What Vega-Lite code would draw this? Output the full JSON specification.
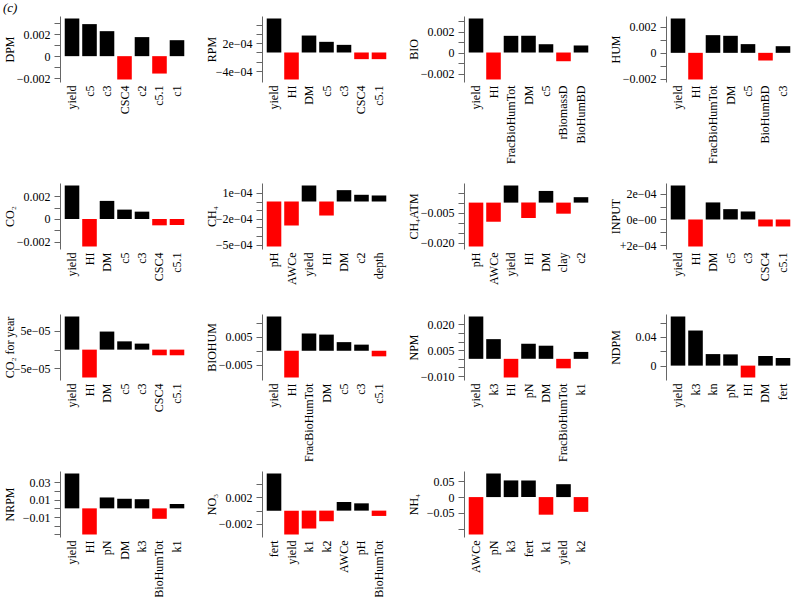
{
  "$schema": "https://vega.github.io/schema/vega-lite/v6.json",
  "background": "white",
  "padding": {"left": 3, "top": 2, "right": 2, "bottom": 2},
  "title": {"text": "(c)", "anchor": "start", "font": "Liberation Serif", "fontStyle": "italic", "fontSize": 13, "fontWeight": "normal", "offset": 0, "color": "black"},
  "config": {
    "font": "Liberation Serif",
    "view": {"stroke": null},
    "axis": {"labelFont": "Liberation Serif", "titleFont": "Liberation Serif", "labelFontSize": 12, "titleFontSize": 12, "labelColor": "black", "titleColor": "black", "titleFontWeight": "normal", "grid": false, "labelOverlap": false},
    "axisY": {"domainColor": "#666666", "tickColor": "#666666", "tickSize": 6, "labelPadding": 4, "minExtent": 41, "maxExtent": 41, "titlePadding": 3},
    "axisX": {"domain": false, "ticks": false, "tickSize": 0, "labelAngle": -90, "labelPadding": 3}
  },
  "data": {"values": [
    {"panel": "DPM", "var": "yield", "value": 0.00342},
    {"panel": "DPM", "var": "c5", "value": 0.00291},
    {"panel": "DPM", "var": "c3", "value": 0.00227},
    {"panel": "DPM", "var": "CSC4", "value": -0.00212},
    {"panel": "DPM", "var": "c2", "value": 0.00173},
    {"panel": "DPM", "var": "c5.1", "value": -0.00158},
    {"panel": "DPM", "var": "c1", "value": 0.00145},
    {"panel": "RPM", "var": "yield", "value": 0.00073},
    {"panel": "RPM", "var": "HI", "value": -0.00058},
    {"panel": "RPM", "var": "DM", "value": 0.000364},
    {"panel": "RPM", "var": "c5", "value": 0.000229},
    {"panel": "RPM", "var": "c3", "value": 0.000164},
    {"panel": "RPM", "var": "CSC4", "value": -0.000143},
    {"panel": "RPM", "var": "c5.1", "value": -0.000143},
    {"panel": "BIO", "var": "yield", "value": 0.00324},
    {"panel": "BIO", "var": "HI", "value": -0.00257},
    {"panel": "BIO", "var": "FracBioHumTot", "value": 0.00159},
    {"panel": "BIO", "var": "DM", "value": 0.00159},
    {"panel": "BIO", "var": "c5", "value": 0.00079},
    {"panel": "BIO", "var": "rBiomassD", "value": -0.00083},
    {"panel": "BIO", "var": "BioHumBD", "value": 0.00067},
    {"panel": "HUM", "var": "yield", "value": 0.00264},
    {"panel": "HUM", "var": "HI", "value": -0.00205},
    {"panel": "HUM", "var": "FracBioHumTot", "value": 0.00136},
    {"panel": "HUM", "var": "DM", "value": 0.00131},
    {"panel": "HUM", "var": "c5", "value": 0.00067},
    {"panel": "HUM", "var": "BioHumBD", "value": -0.00059},
    {"panel": "HUM", "var": "c3", "value": 0.00051},
    {"panel": "CO2", "var": "yield", "value": 0.00296},
    {"panel": "CO2", "var": "HI", "value": -0.00243},
    {"panel": "CO2", "var": "DM", "value": 0.0016},
    {"panel": "CO2", "var": "c5", "value": 0.00083},
    {"panel": "CO2", "var": "c3", "value": 0.00065},
    {"panel": "CO2", "var": "CSC4", "value": -0.00056},
    {"panel": "CO2", "var": "c5.1", "value": -0.00053},
    {"panel": "CH4", "var": "pH", "value": -0.000523},
    {"panel": "CH4", "var": "AWCe", "value": -0.000279},
    {"panel": "CH4", "var": "yield", "value": 0.000186},
    {"panel": "CH4", "var": "HI", "value": -0.000163},
    {"panel": "CH4", "var": "DM", "value": 0.000132},
    {"panel": "CH4", "var": "c2", "value": 0.000078},
    {"panel": "CH4", "var": "depth", "value": 0.00007},
    {"panel": "CH4ATM", "var": "pH", "value": -0.0218},
    {"panel": "CH4ATM", "var": "AWCe", "value": -0.0095},
    {"panel": "CH4ATM", "var": "yield", "value": 0.0085},
    {"panel": "CH4ATM", "var": "HI", "value": -0.0077},
    {"panel": "CH4ATM", "var": "DM", "value": 0.0058},
    {"panel": "CH4ATM", "var": "clay", "value": -0.0055},
    {"panel": "CH4ATM", "var": "c2", "value": 0.0027},
    {"panel": "INPUT", "var": "yield", "value": 0.000263},
    {"panel": "INPUT", "var": "HI", "value": -0.000209},
    {"panel": "INPUT", "var": "DM", "value": 0.000132},
    {"panel": "INPUT", "var": "c5", "value": 0.00008},
    {"panel": "INPUT", "var": "c3", "value": 0.000062},
    {"panel": "INPUT", "var": "CSC4", "value": -0.000054},
    {"panel": "INPUT", "var": "c5.1", "value": -0.000054},
    {"panel": "CO2year", "var": "yield", "value": 0.000088},
    {"panel": "CO2year", "var": "HI", "value": -0.000074},
    {"panel": "CO2year", "var": "DM", "value": 0.000048},
    {"panel": "CO2year", "var": "c5", "value": 0.000022},
    {"panel": "CO2year", "var": "c3", "value": 0.000016},
    {"panel": "CO2year", "var": "CSC4", "value": -0.000015},
    {"panel": "CO2year", "var": "c5.1", "value": -0.000015},
    {"panel": "BIOHUM", "var": "yield", "value": 0.0123},
    {"panel": "BIOHUM", "var": "HI", "value": -0.0096},
    {"panel": "BIOHUM", "var": "FracBioHumTot", "value": 0.0062},
    {"panel": "BIOHUM", "var": "DM", "value": 0.0058},
    {"panel": "BIOHUM", "var": "c5", "value": 0.0031},
    {"panel": "BIOHUM", "var": "c3", "value": 0.0022},
    {"panel": "BIOHUM", "var": "c5.1", "value": -0.002},
    {"panel": "NPM", "var": "yield", "value": 0.0245},
    {"panel": "NPM", "var": "k3", "value": 0.0114},
    {"panel": "NPM", "var": "HI", "value": -0.0108},
    {"panel": "NPM", "var": "pN", "value": 0.0088},
    {"panel": "NPM", "var": "DM", "value": 0.0076},
    {"panel": "NPM", "var": "FracBioHumTot", "value": -0.0055},
    {"panel": "NPM", "var": "k1", "value": 0.004},
    {"panel": "NDPM", "var": "yield", "value": 0.0686},
    {"panel": "NDPM", "var": "k3", "value": 0.049},
    {"panel": "NDPM", "var": "kn", "value": 0.0161},
    {"panel": "NDPM", "var": "pN", "value": 0.0157},
    {"panel": "NDPM", "var": "HI", "value": -0.0166},
    {"panel": "NDPM", "var": "DM", "value": 0.0134},
    {"panel": "NDPM", "var": "fert", "value": 0.0106},
    {"panel": "NRPM", "var": "yield", "value": 0.04},
    {"panel": "NRPM", "var": "HI", "value": -0.03},
    {"panel": "NRPM", "var": "pN", "value": 0.0125},
    {"panel": "NRPM", "var": "DM", "value": 0.011},
    {"panel": "NRPM", "var": "k3", "value": 0.0105},
    {"panel": "NRPM", "var": "BioHumTot", "value": -0.012},
    {"panel": "NRPM", "var": "k1", "value": 0.005},
    {"panel": "NO3", "var": "fert", "value": 0.0056},
    {"panel": "NO3", "var": "yield", "value": -0.0036},
    {"panel": "NO3", "var": "k1", "value": -0.0027},
    {"panel": "NO3", "var": "k2", "value": -0.0016},
    {"panel": "NO3", "var": "AWCe", "value": 0.0013},
    {"panel": "NO3", "var": "pH", "value": 0.0011},
    {"panel": "NO3", "var": "BioHumTot", "value": -0.0008},
    {"panel": "NH4", "var": "AWCe", "value": -0.119},
    {"panel": "NH4", "var": "pN", "value": 0.075},
    {"panel": "NH4", "var": "k3", "value": 0.053},
    {"panel": "NH4", "var": "fert", "value": 0.053},
    {"panel": "NH4", "var": "k1", "value": -0.056},
    {"panel": "NH4", "var": "yield", "value": 0.041},
    {"panel": "NH4", "var": "k2", "value": -0.047}
  ]},
  "spacing": 29,
  "vconcat": [
    {
      "columns": 4,
      "spacing": {"row": 19, "column": 16},
      "align": {"row": "each", "column": "all"},
      "bounds": "full",
      "concat": [
        {"width": 129, "height": 66, "transform": [{"filter": "datum.panel == 'DPM'"}], "mark": "bar",
         "encoding": {
           "x": {"field": "var", "type": "nominal", "sort": null, "scale": {"paddingInner": 0.1667, "paddingOuter": 0.27}, "axis": {"title": null}},
           "y": {"field": "value", "type": "quantitative", "scale": {"nice": false, "padding": 2.5}, "axis": {"title": "DPM", "values": [0.003, 0.002, 0.001, 0, -0.001, -0.002], "labelExpr": "datum.value == 0.002 ? '0.002' : datum.value == 0 ? '0' : datum.value == -0.002 ? '−0.002' : ''"}},
           "color": {"condition": {"test": "datum.value < 0", "value": "#ff0000"}, "value": "#000000"}}},
        {"width": 129, "height": 66, "transform": [{"filter": "datum.panel == 'RPM'"}], "mark": "bar",
         "encoding": {
           "x": {"field": "var", "type": "nominal", "sort": null, "scale": {"paddingInner": 0.1667, "paddingOuter": 0.27}, "axis": {"title": null}},
           "y": {"field": "value", "type": "quantitative", "scale": {"nice": false, "padding": 2.5}, "axis": {"title": "RPM", "values": [0.0006, 0.0004, 0.0002, 0, -0.0002, -0.0004], "labelExpr": "datum.value == 0.0002 ? '2e−04' : datum.value == -0.0004 ? '−4e−04' : ''"}},
           "color": {"condition": {"test": "datum.value < 0", "value": "#ff0000"}, "value": "#000000"}}},
        {"width": 129, "height": 66, "transform": [{"filter": "datum.panel == 'BIO'"}], "mark": "bar",
         "encoding": {
           "x": {"field": "var", "type": "nominal", "sort": null, "scale": {"paddingInner": 0.1667, "paddingOuter": 0.27}, "axis": {"title": null}},
           "y": {"field": "value", "type": "quantitative", "scale": {"nice": false, "padding": 2.5}, "axis": {"title": "BIO", "values": [0.003, 0.002, 0.001, 0, -0.001, -0.002], "labelExpr": "datum.value == 0.002 ? '0.002' : datum.value == 0 ? '0' : datum.value == -0.002 ? '−0.002' : ''"}},
           "color": {"condition": {"test": "datum.value < 0", "value": "#ff0000"}, "value": "#000000"}}},
        {"width": 129, "height": 66, "transform": [{"filter": "datum.panel == 'HUM'"}], "mark": "bar",
         "encoding": {
           "x": {"field": "var", "type": "nominal", "sort": null, "scale": {"paddingInner": 0.1667, "paddingOuter": 0.27}, "axis": {"title": null}},
           "y": {"field": "value", "type": "quantitative", "scale": {"nice": false, "padding": 2.5}, "axis": {"title": "HUM", "values": [0.002, 0.001, 0, -0.001, -0.002], "labelExpr": "datum.value == 0.002 ? '0.002' : datum.value == 0 ? '0' : datum.value == -0.002 ? '−0.002' : ''"}},
           "color": {"condition": {"test": "datum.value < 0", "value": "#ff0000"}, "value": "#000000"}}},
        {"width": 129, "height": 66, "transform": [{"filter": "datum.panel == 'CO2'"}], "mark": "bar",
         "encoding": {
           "x": {"field": "var", "type": "nominal", "sort": null, "scale": {"paddingInner": 0.1667, "paddingOuter": 0.27}, "axis": {"title": null}},
           "y": {"field": "value", "type": "quantitative", "scale": {"nice": false, "padding": 2.5}, "axis": {"title": "CO₂", "values": [0.002, 0.001, 0, -0.001, -0.002], "labelExpr": "datum.value == 0.002 ? '0.002' : datum.value == 0 ? '0' : datum.value == -0.002 ? '−0.002' : ''"}},
           "color": {"condition": {"test": "datum.value < 0", "value": "#ff0000"}, "value": "#000000"}}},
        {"width": 129, "height": 66, "transform": [{"filter": "datum.panel == 'CH4'"}], "mark": "bar",
         "encoding": {
           "x": {"field": "var", "type": "nominal", "sort": null, "scale": {"paddingInner": 0.1667, "paddingOuter": 0.27}, "axis": {"title": null}},
           "y": {"field": "value", "type": "quantitative", "scale": {"nice": false, "padding": 2.5}, "axis": {"title": "CH₄", "values": [0.0001, 0, -0.0001, -0.0002, -0.0003, -0.0004, -0.0005], "labelExpr": "datum.value == 0.0001 ? '1e−04' : datum.value == -0.0002 ? '−2e−04' : datum.value == -0.0005 ? '−5e−04' : ''"}},
           "color": {"condition": {"test": "datum.value < 0", "value": "#ff0000"}, "value": "#000000"}}},
        {"width": 129, "height": 66, "transform": [{"filter": "datum.panel == 'CH4ATM'"}], "mark": "bar",
         "encoding": {
           "x": {"field": "var", "type": "nominal", "sort": null, "scale": {"paddingInner": 0.1667, "paddingOuter": 0.27}, "axis": {"title": null}},
           "y": {"field": "value", "type": "quantitative", "scale": {"nice": false, "padding": 2.5}, "axis": {"title": "CH₄ATM", "values": [0.005, 0, -0.005, -0.01, -0.015, -0.02], "labelExpr": "datum.value == -0.005 ? '−0.005' : datum.value == -0.02 ? '−0.020' : ''"}},
           "color": {"condition": {"test": "datum.value < 0", "value": "#ff0000"}, "value": "#000000"}}},
        {"width": 129, "height": 66, "transform": [{"filter": "datum.panel == 'INPUT'"}], "mark": "bar",
         "encoding": {
           "x": {"field": "var", "type": "nominal", "sort": null, "scale": {"paddingInner": 0.1667, "paddingOuter": 0.27}, "axis": {"title": null}},
           "y": {"field": "value", "type": "quantitative", "scale": {"nice": false, "padding": 2.5}, "axis": {"title": "INPUT", "values": [0.0002, 0.0001, 0, -0.0001, -0.0002], "labelExpr": "datum.value == 0.0002 ? '2e−04' : datum.value == 0 ? '0e−00' : datum.value == -0.0002 ? '+2e−04' : ''"}},
           "color": {"condition": {"test": "datum.value < 0", "value": "#ff0000"}, "value": "#000000"}}}
      ]
    },
    {
      "columns": 4,
      "spacing": {"row": 9, "column": 16},
      "align": {"row": "each", "column": "all"},
      "bounds": "full",
      "concat": [
        {"width": 129, "height": 66, "transform": [{"filter": "datum.panel == 'CO2year'"}], "mark": "bar",
         "encoding": {
           "x": {"field": "var", "type": "nominal", "sort": null, "scale": {"paddingInner": 0.1667, "paddingOuter": 0.27}, "axis": {"title": null}},
           "y": {"field": "value", "type": "quantitative", "scale": {"nice": false, "padding": 2.5}, "axis": {"title": "CO₂ for year", "values": [0.00005, 0, -0.00005], "labelExpr": "datum.value == 0.00005 ? '5e−05' : datum.value == -0.00005 ? '−5e−05' : ''"}},
           "color": {"condition": {"test": "datum.value < 0", "value": "#ff0000"}, "value": "#000000"}}},
        {"width": 129, "height": 66, "transform": [{"filter": "datum.panel == 'BIOHUM'"}], "mark": "bar",
         "encoding": {
           "x": {"field": "var", "type": "nominal", "sort": null, "scale": {"paddingInner": 0.1667, "paddingOuter": 0.27}, "axis": {"title": null}},
           "y": {"field": "value", "type": "quantitative", "scale": {"nice": false, "padding": 2.5}, "axis": {"title": "BIOHUM", "values": [0.01, 0.005, 0, -0.005], "labelExpr": "datum.value == 0.005 ? '0.005' : datum.value == -0.005 ? '−0.005' : ''"}},
           "color": {"condition": {"test": "datum.value < 0", "value": "#ff0000"}, "value": "#000000"}}},
        {"width": 129, "height": 66, "transform": [{"filter": "datum.panel == 'NPM'"}], "mark": "bar",
         "encoding": {
           "x": {"field": "var", "type": "nominal", "sort": null, "scale": {"paddingInner": 0.1667, "paddingOuter": 0.27}, "axis": {"title": null}},
           "y": {"field": "value", "type": "quantitative", "scale": {"nice": false, "padding": 2.5}, "axis": {"title": "NPM", "values": [0.02, 0.015, 0.01, 0.005, 0, -0.005, -0.01], "labelExpr": "datum.value == 0.02 ? '0.020' : datum.value == 0.005 ? '0.005' : datum.value == -0.01 ? '−0.010' : ''"}},
           "color": {"condition": {"test": "datum.value < 0", "value": "#ff0000"}, "value": "#000000"}}},
        {"width": 129, "height": 66, "transform": [{"filter": "datum.panel == 'NDPM'"}], "mark": "bar",
         "encoding": {
           "x": {"field": "var", "type": "nominal", "sort": null, "scale": {"paddingInner": 0.1667, "paddingOuter": 0.27}, "axis": {"title": null}},
           "y": {"field": "value", "type": "quantitative", "scale": {"nice": false, "padding": 2.5}, "axis": {"title": "NDPM", "values": [0.06, 0.04, 0.02, 0], "labelExpr": "datum.value == 0.04 ? '0.04' : datum.value == 0 ? '0' : ''"}},
           "color": {"condition": {"test": "datum.value < 0", "value": "#ff0000"}, "value": "#000000"}}},
        {"width": 129, "height": 66, "transform": [{"filter": "datum.panel == 'NRPM'"}], "mark": "bar",
         "encoding": {
           "x": {"field": "var", "type": "nominal", "sort": null, "scale": {"paddingInner": 0.1667, "paddingOuter": 0.27}, "axis": {"title": null}},
           "y": {"field": "value", "type": "quantitative", "scale": {"nice": false, "padding": 2.5}, "axis": {"title": "NRPM", "values": [0.03, 0.02, 0.01, 0, -0.01, -0.02, -0.03], "labelExpr": "datum.value == 0.03 ? '0.03' : datum.value == 0.01 ? '0.01' : datum.value == -0.01 ? '−0.01' : ''"}},
           "color": {"condition": {"test": "datum.value < 0", "value": "#ff0000"}, "value": "#000000"}}},
        {"width": 129, "height": 66, "transform": [{"filter": "datum.panel == 'NO3'"}], "mark": "bar",
         "encoding": {
           "x": {"field": "var", "type": "nominal", "sort": null, "scale": {"paddingInner": 0.1667, "paddingOuter": 0.27}, "axis": {"title": null}},
           "y": {"field": "value", "type": "quantitative", "scale": {"nice": false, "padding": 2.5}, "axis": {"title": "NO₃", "values": [0.004, 0.002, 0, -0.002], "labelExpr": "datum.value == 0.002 ? '0.002' : datum.value == -0.002 ? '−0.002' : ''"}},
           "color": {"condition": {"test": "datum.value < 0", "value": "#ff0000"}, "value": "#000000"}}},
        {"width": 129, "height": 66, "transform": [{"filter": "datum.panel == 'NH4'"}], "mark": "bar",
         "encoding": {
           "x": {"field": "var", "type": "nominal", "sort": null, "scale": {"paddingInner": 0.1667, "paddingOuter": 0.27}, "axis": {"title": null}},
           "y": {"field": "value", "type": "quantitative", "scale": {"nice": false, "padding": 2.5}, "axis": {"title": "NH₄", "values": [0.05, 0, -0.05, -0.1], "labelExpr": "datum.value == 0.05 ? '0.05' : datum.value == 0 ? '0' : datum.value == -0.05 ? '−0.05' : ''"}},
           "color": {"condition": {"test": "datum.value < 0", "value": "#ff0000"}, "value": "#000000"}}}
      ]
    }
  ]
}
